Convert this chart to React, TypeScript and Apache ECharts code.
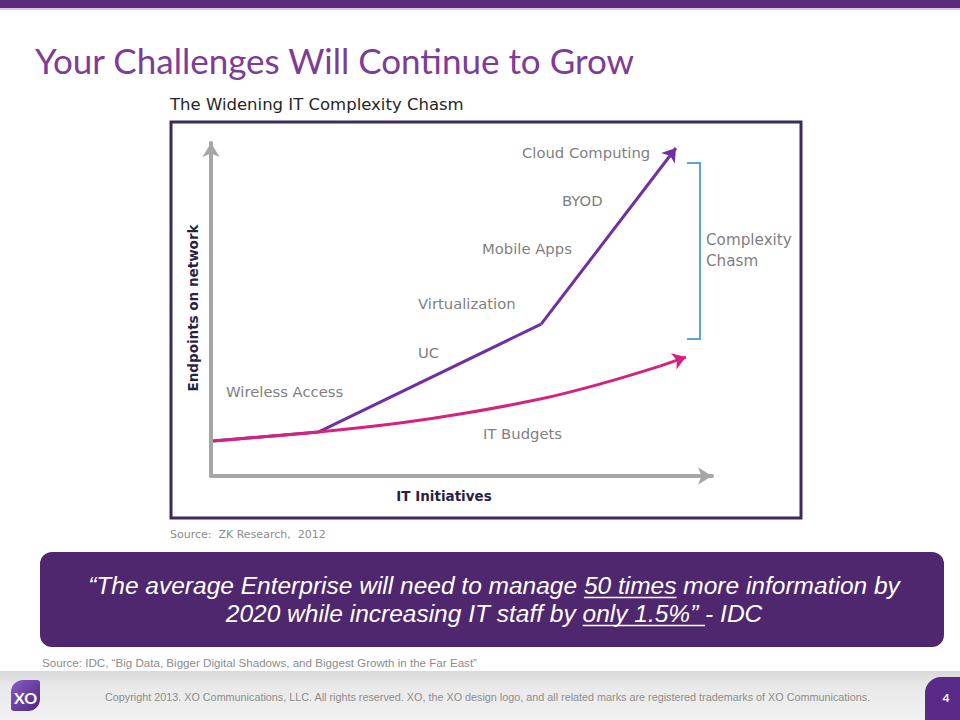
import React, { useEffect, useRef } from "react";
import * as echarts from "echarts";

// ---- data ----
const endpointsPath: number[][] = [[0.4, 10.5], [21.4, 13.2], [65.9, 45.6]];
const endpointsArrow: number[][] = [[65.9, 45.6], [92.8, 98.5]];
const budgetPath: number[][] = [[0.4, 10.5], [21.4, 13.2], [37.7, 15.9], [49.7, 18.6], [65.7, 23.1], [77.6, 27.6], [89.6, 33.0]];
const budgetArrow: number[][] = [[89.6, 33.0], [94.8, 35.7]];
const milestoneLabels = ["Cloud Computing", "BYOD", "Mobile Apps", "Virtualization", "UC", "Wireless Access", "IT Budgets"];
const chasmLabel = ["Complexity", "Chasm"];
const xAxisName = "IT Initiatives";
const yAxisName = "Endpoints on network";
const pageTitle = "Your Challenges Will Continue to Grow";
const chartTitle = "The Widening IT Complexity Chasm";
const chartSource = "Source:  ZK Research,  2012";
const quoteLine1 = ["\u201CThe average Enterprise will need to manage ", "50 times", " more information by"];
const quoteLine2 = ["2020 while increasing IT staff by ", "only 1.5%\u201D ", "- IDC"];
const quoteSource = "Source: IDC, \u201CBig Data, Bigger Digital Shadows, and Biggest Growth in the Far East\u201D";
const copyright = "Copyright 2013. XO Communications, LLC. All rights reserved. XO, the XO design logo, and all related marks are registered trademarks of XO Communications.";
const pageNumber = "4";

// ---- layout ----
const milestonePos = [[522, 152], [562, 200], [482, 248], [418, 303], [418, 352], [226, 391], [483, 433]];
const PURPLE_LINE = "#7030a0";
const PINK_LINE = "#d4237e";
const LABEL_GRAY = "#7f7f7f";
const LABEL_FONT = "14.8px 'DejaVu Sans'";
const QUOTE_FONT = "italic 24.5px 'Liberation Sans'";
const QUOTE_CX = 494;
const QUOTE_Y1 = 585;
const QUOTE_LH = 28;

function measure(text: string, font: string): number {
  const c = document.createElement("canvas");
  const ctx = c.getContext("2d");
  if (!ctx) return text.length * 10;
  ctx.font = font;
  return ctx.measureText(text).width;
}

function underline(parts: string[], cx: number, y: number): any {
  const full = parts.join("");
  const w = measure(full, QUOTE_FONT);
  const left = cx - w / 2;
  const pre = measure(parts[0], QUOTE_FONT);
  const mid = measure(parts[1], QUOTE_FONT);
  return {
    type: "line",
    shape: { x1: left + pre, y1: y + 12.5, x2: left + pre + mid, y2: y + 12.5 },
    style: { stroke: "#ffffff", lineWidth: 1.3 },
  };
}

export default function App() {
  const ref = useRef<HTMLDivElement>(null);
  useEffect(() => {
    if (!ref.current) return;
    const chart = echarts.init(ref.current, undefined, { renderer: "svg" });

    const labelTexts = milestoneLabels.map((t, i) => ({
      type: "text",
      x: milestonePos[i][0],
      y: milestonePos[i][1],
      style: { text: t, fill: LABEL_GRAY, font: LABEL_FONT, verticalAlign: "middle", align: "left" },
    }));

    const graphic: any[] = [
      // top bar
      { type: "rect", shape: { x: 0, y: 0, width: 960, height: 8 }, style: { fill: "#5b2b7c" } },
      { type: "rect", shape: { x: 0, y: 8, width: 960, height: 2 }, style: { fill: "#dcc6e8" } },
      // title
      { type: "text", x: 35, y: 60, style: { text: pageTitle, fill: "#7d3c98", font: "35px Lato", verticalAlign: "middle" } },
      { type: "text", x: 170, y: 104, style: { text: chartTitle, fill: "#262626", font: "16.5px 'DejaVu Sans'", verticalAlign: "middle" } },
      // chart frame
      { type: "rect", shape: { x: 171, y: 122, width: 630, height: 396 }, style: { fill: "none", stroke: "#3d2a5c", lineWidth: 3 } },
      ...labelTexts,
      // complexity chasm bracket
      { type: "polyline", shape: { points: [[687, 163], [700, 163], [700, 339], [687, 339]] }, style: { stroke: "#5aa6d2", lineWidth: 2, fill: "none" } },
      { type: "text", x: 706, y: 250.5, style: { text: chasmLabel.join("\n"), fill: LABEL_GRAY, font: "15.2px 'DejaVu Sans'", lineHeight: 21, verticalAlign: "middle" } },
      // chart source
      { type: "text", x: 170, y: 534, style: { text: chartSource, fill: "#8c8c8c", font: "11px 'DejaVu Sans'", verticalAlign: "middle" } },
      // quote box
      { type: "rect", shape: { x: 40, y: 552, width: 904, height: 95, r: 12 }, style: { fill: "#4f276f" } },
      {
        type: "text", x: QUOTE_CX, y: QUOTE_Y1 + QUOTE_LH / 2,
        style: { text: quoteLine1.join("") + "\n" + quoteLine2.join(""), fill: "#ffffff", font: QUOTE_FONT, lineHeight: QUOTE_LH, align: "center", verticalAlign: "middle" },
      },
      underline(quoteLine1, QUOTE_CX, QUOTE_Y1),
      underline(quoteLine2, QUOTE_CX, QUOTE_Y1 + QUOTE_LH),
      { type: "text", x: 42, y: 662, style: { text: quoteSource, fill: "#8c8c8c", font: "11.6px 'Liberation Sans'", verticalAlign: "middle" } },
      // footer
      {
        type: "rect", shape: { x: 0, y: 671, width: 960, height: 49 },
        style: { fill: new echarts.graphic.LinearGradient(0, 0, 0, 1, [{ offset: 0, color: "#d9d9d9" }, { offset: 0.3, color: "#e9e9e9" }, { offset: 1, color: "#f1f1f1" }]) },
      },
      {
        type: "rect", shape: { x: 11, y: 680, width: 29, height: 31, r: [12, 3, 12, 3] },
        style: { fill: new echarts.graphic.LinearGradient(0, 0, 1, 1, [{ offset: 0, color: "#8a5cc2" }, { offset: 1, color: "#4b2580" }]) },
      },
      { type: "text", x: 25.5, y: 697, style: { text: "XO", fill: "#ffffff", font: "bold 16px Lato", align: "center", verticalAlign: "middle" } },
      { type: "text", x: 105, y: 697, style: { text: copyright, fill: "#8c8c8c", font: "10.8px 'Liberation Sans'", verticalAlign: "middle" } },
      { type: "rect", shape: { x: 925, y: 677, width: 40, height: 50, r: [16, 0, 0, 0] }, style: { fill: "#5a2a88" } },
      { type: "text", x: 946, y: 697, style: { text: pageNumber, fill: "#ffffff", font: "bold 12px Lato", align: "center", verticalAlign: "middle" } },
    ];

    const axisCommon = {
      type: "value" as const,
      min: 0,
      max: 100,
      axisTick: { show: false },
      axisLabel: { show: false },
      splitLine: { show: false },
      nameLocation: "middle" as const,
    };

    chart.setOption({
      animation: false,
      backgroundColor: "#ffffff",
      grid: { left: 211, right: 248, top: 143, bottom: 244 },
      xAxis: {
        ...axisCommon,
        name: xAxisName,
        nameGap: 13,
        nameTextStyle: { color: "#2a1f45", fontFamily: "DejaVu Sans", fontWeight: "bold", fontSize: 13.5, padding: [0, 35, 0, 0], verticalAlign: "top" },
        axisLine: { show: true, symbol: ["none", "arrow"], symbolSize: [13, 14], lineStyle: { color: "#a6a6a6", width: 4 } },
      },
      yAxis: {
        ...axisCommon,
        name: yAxisName,
        nameGap: 11,
        nameTextStyle: { color: "#2a1f45", fontFamily: "DejaVu Sans", fontWeight: "bold", fontSize: 13.5, padding: [0, 0, 0, 3] },
        axisLine: { show: true, symbol: ["none", "arrow"], symbolSize: [13, 14], lineStyle: { color: "#a6a6a6", width: 4 } },
      },
      series: [
        {
          type: "line",
          data: endpointsPath,
          showSymbol: false,
          clip: false,
          silent: true,
          lineStyle: { color: PURPLE_LINE, width: 3 },
          z: 3,
          markLine: {
            silent: true,
            symbol: ["none", "arrow"],
            symbolSize: 13,
            label: { show: false },
            lineStyle: { color: PURPLE_LINE, width: 3, type: "solid" },
            data: [[{ coord: endpointsArrow[0] }, { coord: endpointsArrow[1] }]],
          },
        },
        {
          type: "line",
          data: budgetPath,
          smooth: 0.3,
          showSymbol: false,
          clip: false,
          silent: true,
          lineStyle: { color: PINK_LINE, width: 3 },
          z: 4,
          markLine: {
            silent: true,
            symbol: ["none", "arrow"],
            symbolSize: 13,
            label: { show: false },
            lineStyle: { color: PINK_LINE, width: 3, type: "solid" },
            data: [[{ coord: budgetArrow[0] }, { coord: budgetArrow[1] }]],
          },
        },
      ],
      graphic,
    });
    return () => chart.dispose();
  }, []);
  return <div ref={ref} style={{ position: "absolute", left: 0, top: 0, width: 960, height: 720 }} />;
}
